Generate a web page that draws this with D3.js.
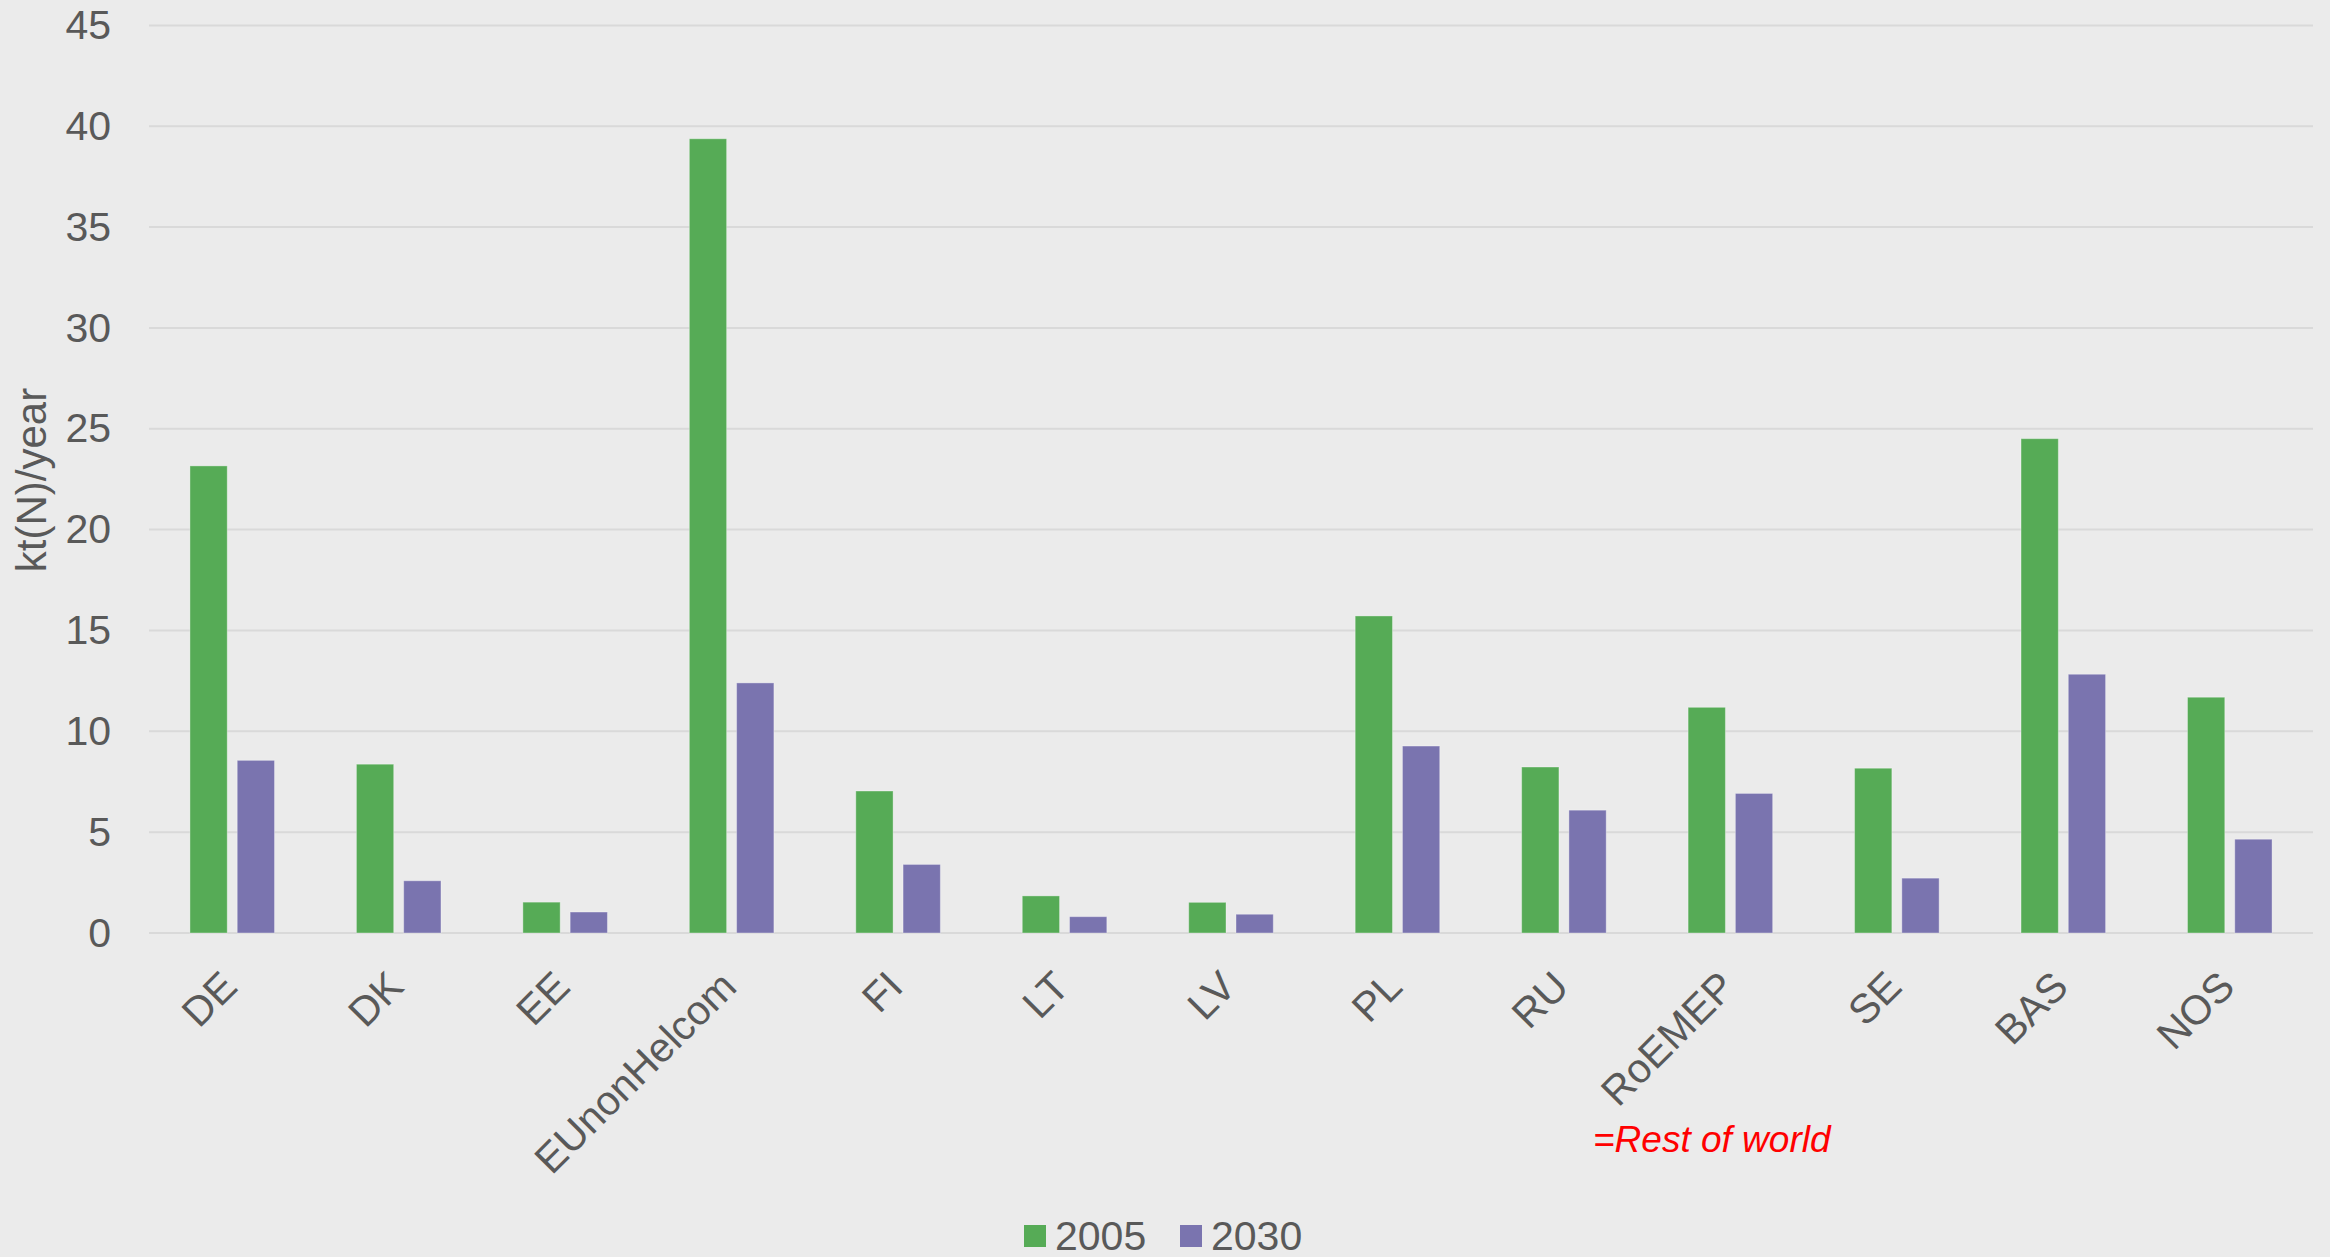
<!DOCTYPE html>
<html>
<head>
<meta charset="utf-8">
<script src="https://cdn.jsdelivr.net/npm/d3@7"></script>
<style>
  html, body { margin: 0; padding: 0; background: #EBEBEB; }
  svg { display: block; }
  text { font-family: "Liberation Sans", Arial, sans-serif; fill: #595959; }
</style>
</head>
<body>
<svg id="chart" width="2330" height="1257"></svg>
<script>
// Nitrogen deposition by source region, kt(N)/year
const categories = ["DE", "DK", "EE", "EUnonHelcom", "FI", "LT", "LV", "PL", "RU", "RoEMEP", "SE", "BAS", "NOS"];
const series = ["2005", "2030"];
const values2005 = [23.16, 8.37, 1.53, 39.38, 7.04, 1.84, 1.52, 15.72, 8.23, 11.19, 8.17, 24.51, 11.69];
const values2030 = [8.56, 2.59, 1.04, 12.40, 3.40, 0.81, 0.93, 9.27, 6.09, 6.92, 2.72, 12.83, 4.65];
const yTicks = [0, 5, 10, 15, 20, 25, 30, 35, 40, 45];
const colors = { "2005": "#56AB56", "2030": "#7A74AF" };

(function draw() {
  const svg = d3.select("#chart");
  const W = 2330, H = 1257;
  svg.append("rect").attr("width", W).attr("height", H).attr("fill", "#EBEBEB");

  const plotLeft = 149, plotRight = 2313, plotTop = 25.4, plotBottom = 933;

  const x0 = d3.scaleBand()
    .domain(categories)
    .range([plotLeft, plotRight])
    .paddingInner(0.492)
    .paddingOuter(0.246);

  const x1 = d3.scaleBand()
    .domain(series)
    .range([0, x0.bandwidth()])
    .paddingInner(0.211);

  const y = d3.scaleLinear().domain([0, 45]).range([plotBottom, plotTop]);

  // horizontal gridlines
  svg.append("g")
    .selectAll("line")
    .data(yTicks)
    .join("line")
    .attr("x1", plotLeft).attr("x2", plotRight)
    .attr("y1", d => y(d)).attr("y2", d => y(d))
    .attr("stroke", "#D9D9D9")
    .attr("stroke-width", 2);

  // y axis labels
  const yAxis = svg.append("g")
    .attr("transform", `translate(${plotLeft},0)`)
    .call(d3.axisLeft(y).tickValues(yTicks).tickSize(0).tickPadding(38));
  yAxis.select(".domain").remove();
  yAxis.selectAll("text")
    .attr("font-size", 41)
    .attr("fill", "#595959")
    .style("font-family", "'Liberation Sans', Arial, sans-serif");

  // bars
  const rows = categories.map((c, i) => ({ cat: c, vals: [
    { s: "2005", v: values2005[i] },
    { s: "2030", v: values2030[i] }
  ]}));

  svg.append("g")
    .selectAll("g")
    .data(rows)
    .join("g")
    .attr("transform", d => `translate(${x0(d.cat)},0)`)
    .selectAll("rect")
    .data(d => d.vals)
    .join("rect")
    .attr("x", d => x1(d.s))
    .attr("width", x1.bandwidth())
    .attr("y", d => y(d.v))
    .attr("height", d => y(0) - y(d.v))
    .attr("fill", d => colors[d.s])
    .attr("stroke", "rgba(255,255,255,0.35)")
    .attr("stroke-width", 1);

  // rotated category labels
  svg.append("g")
    .selectAll("text")
    .data(categories)
    .join("text")
    .attr("transform", d => `translate(${x0(d) + x0.bandwidth() / 2 + 7},989) rotate(-45)`)
    .attr("text-anchor", "end")
    .attr("font-size", 41)
    .text(d => d);

  // note under RoEMEP
  svg.append("text")
    .attr("x", 1593)
    .attr("y", 1152)
    .attr("font-size", 37)
    .attr("font-style", "italic")
    .style("fill", "#FF0000")
    .text("=Rest of world");

  // y axis title
  svg.append("text")
    .attr("transform", "translate(46,480) rotate(-90)")
    .attr("text-anchor", "middle")
    .attr("font-size", 42)
    .text("kt(N)/year");

  // legend
  const legendItems = [
    { s: "2005", x: 1024 },
    { s: "2030", x: 1180 }
  ];
  const lg = svg.append("g");
  lg.selectAll("rect")
    .data(legendItems)
    .join("rect")
    .attr("x", d => d.x)
    .attr("y", 1225)
    .attr("width", 22)
    .attr("height", 22)
    .attr("fill", d => colors[d.s]);
  lg.selectAll("text")
    .data(legendItems)
    .join("text")
    .attr("x", d => d.x + 31)
    .attr("y", 1250)
    .attr("font-size", 41)
    .text(d => d.s);
})();
</script>
</body>
</html>
